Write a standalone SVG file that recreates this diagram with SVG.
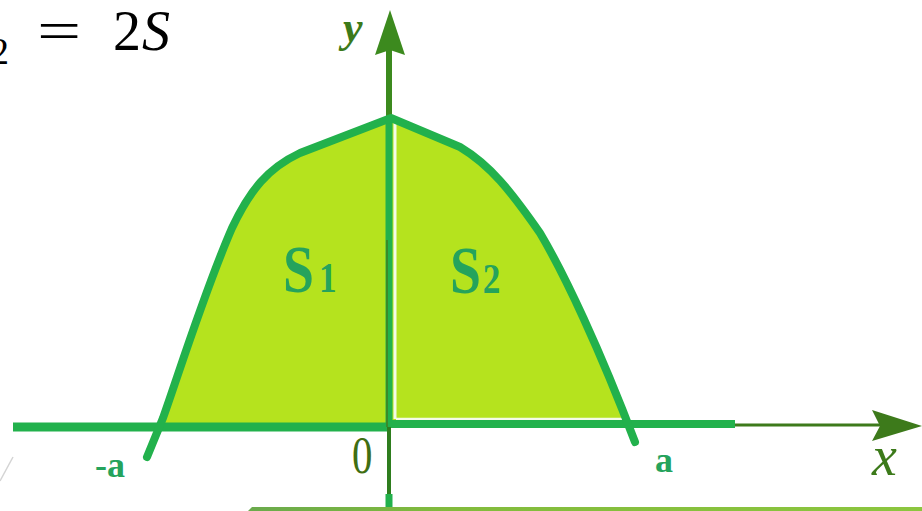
<svg xmlns="http://www.w3.org/2000/svg" width="922" height="511" viewBox="0 0 922 511">
  <style>
    .curve { fill: none; stroke: #22b14c; stroke-width: 8; stroke-linecap: round; stroke-linejoin: round; }
    .lbl { font-family: "Liberation Serif", "Times New Roman", serif; }
    .teal { fill: #25a35c; font-weight: bold; }
    .dark { fill: #3c7a1a; }
  </style>
  <defs>
    <clipPath id="aboveAxis">
      <rect x="0" y="0" width="922" height="427"/>
    </clipPath>
    <linearGradient id="bar" x1="0" y1="0" x2="1" y2="0">
      <stop offset="0" stop-color="#6aaa4c"/>
      <stop offset="0.3" stop-color="#82bb3c"/>
      <stop offset="1" stop-color="#8cc63f"/>
    </linearGradient>
  </defs>
  <rect width="922" height="511" fill="#ffffff"/>

  <!-- equation fragment -->
  <g id="equation" class="lbl" fill="#000000">
    <text x="-10" y="64" font-size="38">2</text>
    <text transform="translate(37,50) scale(1.4,1)" font-size="56">=</text>
    <text x="113" y="50" font-size="56">2</text>
    <text x="142" y="50" font-size="56" font-style="italic">S</text>
  </g>

  <!-- filled region -->
  <g id="region">
    <path clip-path="url(#aboveAxis)" fill="#b5e31e" d="M147,457 L163,418 C180,370 205,290 232,228 C250,190 268,168 300,153 L391,118 L460,147 C490,165 510,190 540,233 C565,275 600,350 635,442 Z"/>
    <line x1="395" y1="122" x2="395" y2="419" stroke="#f4fbe8" stroke-width="3"/>
    <line x1="396" y1="419" x2="624" y2="419" stroke="#f4fbe8" stroke-width="2.5"/>
  </g>

  <!-- axes -->
  <g id="axes">
    <line x1="13" y1="427" x2="389" y2="427" stroke="#22b14c" stroke-width="9"/>
    <line x1="389" y1="424" x2="735" y2="424" stroke="#22b14c" stroke-width="8"/>
    <line x1="735" y1="425" x2="880" y2="425" stroke="#3d7a1b" stroke-width="3"/>
    <path d="M922,426 L872,410 L880,426 L872,441 Z" fill="#3d7a1b"/>
    <line x1="389" y1="50" x2="389" y2="118" stroke="#3c8a1e" stroke-width="6"/>
    <path d="M390,10 L405,55 L390,50 L375,55 Z" fill="#3c8a1e"/>
    <line x1="389" y1="118" x2="389" y2="427" stroke="#22b14c" stroke-width="7"/>
    <line x1="387" y1="240" x2="387" y2="427" stroke="#3a8a2a" stroke-width="2"/>
    <line x1="389" y1="427" x2="389" y2="494" stroke="#2e7d1e" stroke-width="4"/>
    <line x1="389" y1="494" x2="389" y2="507" stroke="#22b14c" stroke-width="7"/>
  </g>

  <!-- curve -->
  <g id="curve">
    <path class="curve" d="M147,457 L163,418 C180,370 205,290 232,228 C250,190 268,168 300,153 L391,118 L460,147 C490,165 510,190 540,233 C565,275 600,350 635,442"/>
  </g>

  <!-- labels -->
  <g id="labels" class="lbl">
    <text x="343" y="42" font-size="44" font-style="italic" font-weight="bold" class="dark">y</text>
    <text x="872" y="475" font-size="56" font-style="italic" class="dark">x</text>
    <text x="95" y="477" font-size="36" class="teal">-a</text>
    <text x="655" y="472" font-size="36" class="teal">a</text>
    <text transform="translate(352,473) scale(0.77,1)" font-size="53" fill="#3f6e12">0</text>
    <text transform="translate(283,292) scale(0.82,1)" class="teal" font-size="68">S<tspan font-size="43" dx="6">1</tspan></text>
    <text transform="translate(450,293) scale(0.82,1)" class="teal" font-size="68">S<tspan font-size="43" dx="2">2</tspan></text>
  </g>

  <!-- decoration -->
  <g id="decor">
    <polygon points="248,511 252,507 922,507 922,511" fill="url(#bar)"/>
    <line x1="0" y1="481" x2="13" y2="457" stroke="#d4d4d4" stroke-width="1.5"/>
  </g>
</svg>
